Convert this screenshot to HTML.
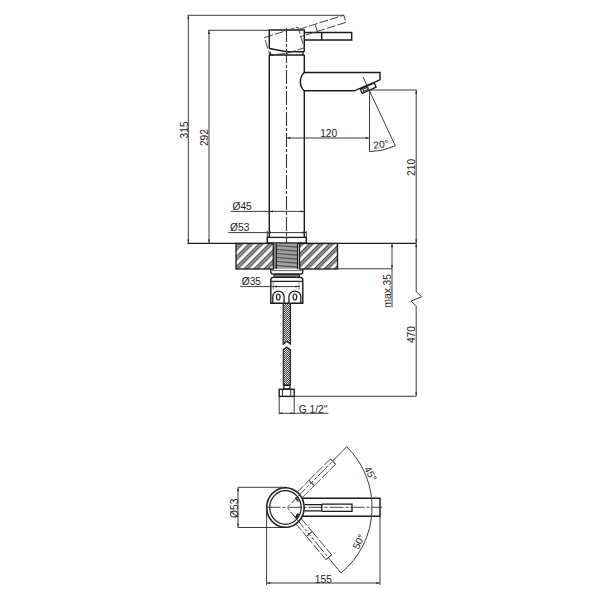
<!DOCTYPE html>
<html><head><meta charset="utf-8">
<style>
html,body{margin:0;padding:0;background:#fff;width:600px;height:600px;overflow:hidden}
svg{display:block}
text{font-family:"Liberation Sans",sans-serif;font-size:10px;fill:#1e1e1e}
.o{stroke:#1a1a1a;stroke-width:1.45;fill:none}
.d{stroke:#3c3c3c;stroke-width:1;fill:none}
.c{stroke:#333;stroke-width:1.1;fill:none;stroke-dasharray:14 2 3 2}
.h{stroke:#444;stroke-width:0.9;fill:none;stroke-dasharray:9 2}
</style></head>
<body>
<svg width="600" height="600" viewBox="0 0 600 600">
<defs>
<pattern id="hat" patternUnits="userSpaceOnUse" width="7.1" height="10" patternTransform="rotate(45)">
<rect x="0" y="0" width="3.8" height="10" fill="#959595"/><rect x="0" y="0" width="0.9" height="10" fill="#444"/><rect x="2.9" y="0" width="0.9" height="10" fill="#444"/>
</pattern>
<pattern id="braid" patternUnits="userSpaceOnUse" width="2" height="2" x="0" y="0">
<rect width="2" height="2" fill="#4a4a4a"/><rect x="0" y="0" width="1" height="1" fill="#d8d8d8"/><rect x="1" y="1" width="1" height="1" fill="#d8d8d8"/>
</pattern>
</defs>
<rect width="600" height="600" fill="#fff"/>

<!-- ===== ELEVATION ===== -->
<!-- 315 / 292 dims -->
<path class="d" d="M187.5 15.3H344 M188.3 15.3V243.3 M208 30.3H269.3 M209 30.3V243.3"/>
<text transform="translate(187.9 129.9) rotate(-90) scale(1.02 1)" text-anchor="middle">315</text>
<text transform="translate(207.7 137.6) rotate(-90) scale(1.02 1)" text-anchor="middle">292</text>

<!-- counter top line -->
<path class="o" d="M187.5 243.3H416" style="stroke-width:1.3"/>

<!-- handle block -->
<path class="o" d="M269.3 48.5V30H304.3V51.8 M269.3 48.5L286.5 51.8H304.3"/>
<path class="o" d="M270 52L271 55 M303 51.8V55" style="stroke-width:1.2"/>
<!-- lever -->
<path class="o" d="M304.3 32.5H351.7V40H304.3 M321.7 32.5V40"/>
<!-- tilted dashed handle -->
<g transform="rotate(-17.5 291.5 49.8)">
<path class="h" d="M269.3 30H304.3V51.8H286.5L269.3 48.5Z"/>
<path class="h" d="M304.3 32.5H351.7V40H304.3 M321.7 32.5V40"/>
</g>

<!-- body -->
<path class="o" d="M269.3 55H304.3 M269.3 55V237.4 M304.3 55V72.5 M304.3 90.8V237.4"/>
<!-- spout -->
<path class="o" d="M303.75 72.5H380V79.8L354.2 90.8H303.75 M304.3 72.5A12.5 12.5 0 0 0 304.3 90.8"/>
<!-- aerator -->
<g transform="translate(368.2 88) rotate(-24)">
<rect class="o" x="-7.6" y="-2.2" width="15.2" height="4.6" style="stroke-width:1.3"/>
<rect x="-5.6" y="-0.9" width="5" height="2.1" fill="none" stroke="#222" stroke-width="0.9"/>
</g>
<path class="d" d="M363 77L395.3 145.8"/>

<!-- centre line -->
<path class="c" d="M286.5 28V243"/>

<!-- 120 dim -->
<path class="d" d="M286.5 138H369.5 M369.5 91V151.7 M369.5 90H416.7"/>
<text transform="translate(328.7 137.1) scale(1.02 1)" text-anchor="middle">120</text>
<path class="d" d="M369.5 151.6A61.6 61.6 0 0 0 395.3 145.8"/>
<text transform="translate(381.5 147.8) rotate(-7) scale(1.02 1)" text-anchor="middle">20°</text>

<!-- 210 / 470 -->
<path class="d" d="M416.2 90V291.7L421.7 296.7L410.8 301.2L416.2 305.8V396.3 M294.2 396.3H416.2"/>
<text transform="translate(415 167.4) rotate(-90) scale(1.02 1)" text-anchor="middle">210</text>
<text transform="translate(415.2 334.6) rotate(-90) scale(1.02 1)" text-anchor="middle">470</text>

<!-- max.35 -->
<path class="d" d="M392 243.3V307.4 M337.5 268.8H392"/>
<text transform="translate(390.6 290.8) rotate(-90) scale(1.02 1)" text-anchor="middle">max.35</text>

<!-- Ø45 Ø53 -->
<path class="d" d="M230.8 211.4H304.3 M228.3 232.6H306.5 M267.3 231V243 M306.3 231V243"/>
<text transform="translate(232.5 210) scale(1.02 1)">Ø45</text>
<text transform="translate(230.1 231.3) scale(1.02 1)">Ø53</text>

<!-- base ring -->
<rect class="o" x="267.3" y="237.4" width="39" height="5.6" style="stroke-width:1.3"/>

<!-- counter hatched blocks -->
<rect x="236" y="243.5" width="37.4" height="25.5" fill="url(#hat)"/>
<rect class="o" x="236" y="243.5" width="37.4" height="25.5" style="stroke-width:1.3"/>
<rect x="299.5" y="243.5" width="38" height="25.5" fill="url(#hat)"/>
<rect class="o" x="299.5" y="243.5" width="38" height="25.5" style="stroke-width:1.3"/>

<!-- shank threads -->
<rect x="273.5" y="243.5" width="24" height="25.3" fill="#a0a0a0"/>
<rect x="273.5" y="243.5" width="2.9" height="25.3" fill="#8a8a8a"/>
<g stroke="#4a4a4a" stroke-width="1.2"><path d="M276.4 245.5L297.5 247.1 M276.4 249.5L297.5 251.1 M276.4 253.5L297.5 255.1 M276.4 257.5L297.5 259.1 M276.4 261.5L297.5 263.1 M276.4 265.5L297.5 267.1"/></g>
<path d="M273.4 243.5V269 M276.4 243.5V269 M297.5 243.5V269 M299.4 243.5V269" stroke="#1a1a1a" stroke-width="1.1"/>
<!-- nut rings under counter -->
<path d="M274 274H299.5V277.4H274Z" fill="#777" stroke="#222" stroke-width="1"/>
<path class="o" d="M270.8 268.8V271.5Q270.8 274.1 273.4 274.1H300.2Q302.8 274.1 302.8 271.5V268.8" style="stroke-width:1.3"/>
<path d="M271.5 270.6H302" stroke="#333" stroke-width="0.8"/>
<!-- cartridge block -->
<path class="o" d="M270.8 303.3V280Q270.8 277.4 273.4 277.4H300.2Q302.8 277.4 302.8 280V303.3Z" style="stroke-width:1.4"/>
<path d="M270.8 281.3H302.8" stroke="#222" stroke-width="1.2"/>
<path d="M273.25 281.3V290 M299 281.3V290" stroke="#666" stroke-width="0.7"/>
<!-- lugs -->
<path class="o" d="M272.8 303.3V296.5A5.65 5.3 0 0 1 284.1 296.5V303.3 M289 303.3V296.5A5.9 5.3 0 0 1 300.8 296.5V303.3" style="stroke-width:1.3"/>
<ellipse cx="278.25" cy="297" rx="1.8" ry="3" fill="none" stroke="#222" stroke-width="1.2"/>
<ellipse cx="294.9" cy="297" rx="1.8" ry="3" fill="none" stroke="#222" stroke-width="1.2"/>
<!-- Ø35 -->
<path class="d" d="M240.2 286.6H300.2"/>
<text transform="translate(241.7 284.7) scale(1.02 1)">Ø35</text>

<!-- hose -->
<path d="M283.2 303.5V344L286.8 341.5L290.4 344V303.5Z" fill="url(#braid)" stroke="#222" stroke-width="1.2"/>
<path d="M283.3 385.2V349.5L286.8 347L290.3 349.5V385.2Z" fill="url(#braid)" stroke="#222" stroke-width="1.2"/>
<!-- neck and hex nut -->
<rect class="o" x="283.9" y="385.4" width="6" height="3.7" style="stroke-width:1.3"/>
<rect class="o" x="279.2" y="389.3" width="15" height="7.1" style="stroke-width:1.4"/>
<path d="M282.5 389.2V396.3 M290.8 389.2V396.3" stroke="#333" stroke-width="1"/>
<!-- G 1/2 -->
<path class="d" d="M279.2 396.3V414.2 M294.2 396.3V414.2 M279.2 413.3H328.3"/>
<text transform="translate(298.7 412.7) scale(1.02 1)">G 1/2"</text>

<!-- ===== PLAN VIEW ===== -->
<!-- ext lines Ø53 -->
<path class="d" d="M238 487.3H286.6 M238 527.5H286 M238 487.3V527.5"/>
<text transform="translate(238.3 508.3) rotate(-90) scale(1.02 1)" text-anchor="middle">Ø53</text>
<!-- spout bar -->
<path class="o" d="M302.5 498.3H380V516.2H302.5"/>
<!-- lever -->
<path class="o" d="M304.7 504.7H321.7V510.8H304.7 M321.7 504.2H352V511.3H321.7" style="stroke-width:1.3"/>
<!-- circles -->
<ellipse class="o" cx="285.45" cy="507.5" rx="18.7" ry="19.8" style="stroke-width:1.55"/>
<ellipse class="o" cx="285.45" cy="507.5" rx="15.7" ry="16.8" style="stroke-width:1.2"/>
<path d="M295.6 497.2L298.3 501.4" stroke="#444" stroke-width="1.9" fill="none"/><path d="M298.3 513.8L295.6 518.1" stroke="#111" stroke-width="2.1" fill="none"/>
<!-- centre lines -->
<path class="c" d="M266.5 507.3H382" style="stroke-width:0.9"/>
<path class="c" d="M346.7 446.7L287.1 507.5" style="stroke-width:0.9;stroke-dasharray:20 2 3 2 14 2 3 2 4 2 3 2"/>
<path class="c" d="M341 573L287.1 507.5" style="stroke-width:0.9;stroke-dasharray:20 2 3 2 14 2 3 2 4 2 3 2"/>
<!-- arc -->
<path class="d" d="M346.7 446.7A85 85 0 0 1 341 573"/>
<!-- rotated levers (dashed) -->
<g transform="rotate(-45 287.1 507.5)">
<path class="h" d="M304.7 503.8H321.7 M304.7 511.2H321.7 M321.7 503.8H352 M321.7 511.2H352"/>
<path d="M321.7 503.8V511.2 M352 503.8V511.2" stroke="#333" stroke-width="1"/>
</g>
<g transform="rotate(50 287.1 507.5)">
<path class="h" d="M304.7 503.8H321.7 M304.7 511.2H321.7 M321.7 503.8H352 M321.7 511.2H352"/>
<path d="M321.7 503.8V511.2 M352 503.8V511.2" stroke="#333" stroke-width="1"/>
</g>
<text transform="translate(367.5 475.3) rotate(61) scale(1.02 1)" text-anchor="middle">45°</text>
<text transform="translate(362 543.2) rotate(-64) scale(1.02 1)" text-anchor="middle">50°</text>
<!-- 155 -->
<path class="d" d="M266.6 507.3V585 M380 516.2V585 M266.6 583H380"/>
<text transform="translate(323.3 582.9) scale(1.02 1)" text-anchor="middle">155</text>
<!-- arrows -->
<path fill="#222" stroke="none" d="M188.3 15.8L189.3 19.0L187.3 19.0Z M188.3 242.8L187.3 239.6L189.3 239.6Z M209.0 30.8L210.0 34.0L208.0 34.0Z M209.0 242.8L208.0 239.6L210.0 239.6Z M287.0 138.0L290.2 137.0L290.2 139.0Z M369.0 138.0L365.8 139.0L365.8 137.0Z M416.2 90.5L417.2 93.7L415.2 93.7Z M416.2 242.8L415.2 239.6L417.2 239.6Z M416.2 243.8L417.2 247.0L415.2 247.0Z M416.2 395.8L415.2 392.6L417.2 392.6Z M392 243.8L393 247L391 247Z M392 268.3L391 265.3L393 265.3Z M269.8 211.4L273.0 210.4L273.0 212.4Z M303.8 211.4L300.6 212.4L300.6 210.4Z M267.8 232.6L271.0 231.6L271.0 233.6Z M305.8 232.6L302.6 233.6L302.6 231.6Z M273.7 286.6L276.9 285.6L276.9 287.6Z M298.6 286.6L295.4 287.6L295.4 285.6Z M279.2 413.3L282.4 412.3L282.4 414.3Z M293.7 413.3L290.5 414.3L290.5 412.3Z M238.0 487.8L239.0 491.0L237.0 491.0Z M238.0 527.0L237.0 523.8L239.0 523.8Z M267.0 583.0L270.2 582.0L270.2 584.0Z M379.5 583.0L376.3 584.0L376.3 582.0Z"/>
</svg>
</body></html>
